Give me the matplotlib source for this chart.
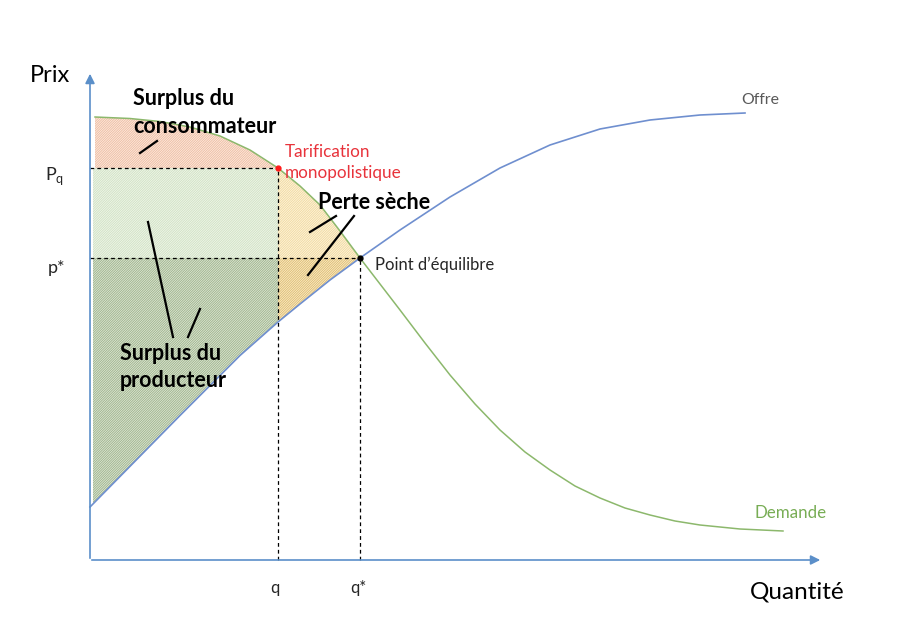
import numpy as np
import matplotlib
matplotlib.use('Agg')
from matplotlib import pyplot as plt

plt.rcParams['font.family'] = ['Lato', 'DejaVu Sans']
plt.rcParams['mathtext.fontset'] = 'custom'
plt.rcParams['mathtext.rm'] = 'Lato'
plt.rcParams['hatch.linewidth'] = 0.6

# offre (supply)
q_offre = np.array([0.0, 3.0, 6.0, 9.0, 12.0, 15.0, 18.8, 21.0, 24.0, 27.0,
                    31.0, 36.0, 41.0, 46.0, 51.0, 56.0, 61.0, 65.5])
p_offre = np.array([5.3, 8.35, 11.4, 14.45, 17.45, 20.45, 23.8, 25.6, 28.0, 30.2,
                    33.0, 36.3, 39.2, 41.5, 43.1, 44.0, 44.5, 44.7])

# demande (demand)
q_dem = np.array([0.5, 4.0, 7.0, 10.0, 13.0, 16.0, 18.8, 21.0, 23.0, 25.0, 27.0,
                  29.0, 31.0, 33.5, 36.0, 38.5, 41.0, 43.5, 46.0, 48.5, 51.0,
                  53.5, 56.0, 58.5, 61.0, 65.0, 69.3])
p_dem = np.array([44.3, 44.15, 43.85, 43.3, 42.4, 41.0, 39.2, 37.4, 35.5, 32.9, 30.2,
                  27.6, 25.0, 21.7, 18.5, 15.6, 13.0, 10.8, 9.0, 7.4, 6.2,
                  5.2, 4.5, 3.9, 3.5, 3.1, 2.9])

q_mono, p_mono = 18.8, 39.2    # tarification monopolistique
q_eq, p_eq = 27.0, 30.2        # point d'equilibre

fig = plt.figure(figsize=(9.06, 6.18), dpi=100)
ax = fig.add_axes([0, 0, 1, 1])
ax.set_xlim(-9, 81.6)
ax.set_ylim(-5.8, 56)
ax.axis('off')

h = '/' * 14
# surfaces
m = q_dem <= q_mono
ax.fill_between(q_dem[m], p_dem[m], p_mono, facecolor='#fcebe1', edgecolor='#eebb9f',
                hatch=h, lw=0)
ax.fill_between([0.3, q_mono], p_eq, p_mono, facecolor='#f0f6eb', edgecolor='#cfe1c2',
                hatch=h, lw=0)
m = q_offre <= q_mono
ax.fill_between(np.r_[0.3, q_offre[m][1:]], np.r_[np.interp(0.3, q_offre, p_offre), p_offre[m][1:]],
                p_eq, facecolor='#dee7d5', edgecolor='#9cb28a', hatch=h, lw=0)
m = (q_dem >= q_mono) & (q_dem <= q_eq)
ax.fill_between(q_dem[m], p_dem[m], p_eq, facecolor='#fdf5df', edgecolor='#f1d89c',
                hatch=h, lw=0)
m = (q_offre >= q_mono) & (q_offre <= q_eq)
ax.fill_between(q_offre[m], p_offre[m], p_eq, facecolor='#faecc8', edgecolor='#ddbb70',
                hatch=h, lw=0)

# courbes
ax.plot(q_offre, p_offre, color='#6f8fcf', lw=1.2)
ax.plot(q_dem, p_dem, color='#8cb86c', lw=1.1)

# pointilles
ax.plot([0, q_mono], [p_mono, p_mono], 'k--', lw=0.9, dashes=(3, 2.5))
ax.plot([0, q_eq], [p_eq, p_eq], 'k--', lw=0.9, dashes=(3, 2.5))
ax.plot([q_mono, q_mono], [0, p_mono], 'k--', lw=0.9, dashes=(3, 2.5))
ax.plot([q_eq, q_eq], [0, p_eq], 'k--', lw=0.9, dashes=(3, 2.5))

ax.plot(q_mono, p_mono, 'o', color='#ff1a1a', ms=3.5)
ax.plot(q_eq, p_eq, 'o', color='black', ms=3.5)

# axes
axc = '#5b8fc9'
ax.annotate('', xy=(73.3, 0), xytext=(-0.1, 0),
            arrowprops=dict(arrowstyle='-|>', color=axc, lw=1.2, mutation_scale=14))
ax.annotate('', xy=(0, 48.9), xytext=(0, -0.1),
            arrowprops=dict(arrowstyle='-|>', color=axc, lw=1.2, mutation_scale=14))

# textes
ax.text(-6.0, 48.4, 'Prix', fontsize=17, va='center', ha='left')
ax.text(66.0, -3.8, 'Quantité', fontsize=17.5, va='baseline', ha='left')
ax.text(-4.5, 38.0, r'P$_{\mathrm{q}}$', fontsize=13, va='baseline', color='#262626')
ax.text(-4.2, 28.7, 'p*', fontsize=13, va='baseline', color='#262626')
ax.text(q_mono - 0.3, -3.3, 'q', fontsize=12, va='baseline', ha='center', color='#262626')
ax.text(q_eq - 1.0, -3.3, 'q*', fontsize=12, va='baseline', ha='left', color='#262626')

ax.text(4.3, 45.5, 'Surplus du', fontsize=15.5, fontweight='bold', va='baseline')
ax.text(4.3, 42.7, 'consommateur', fontsize=15.5, fontweight='bold', va='baseline')
ax.text(3.0, 20.0, 'Surplus du', fontsize=15.5, fontweight='bold', va='baseline')
ax.text(3.0, 17.3, 'producteur', fontsize=15.5, fontweight='bold', va='baseline')
ax.text(22.8, 35.1, 'Perte sèche', fontsize=15.5, fontweight='bold', va='baseline')

ax.text(19.5, 40.3, 'Tarification', fontsize=12.3, color='#e8333b', va='baseline')
ax.text(19.5, 38.2, 'monopolistique', fontsize=12.3, color='#e8333b', va='baseline')
ax.text(28.5, 29.0, 'Point d\u2019équilibre', fontsize=12, color='#262626', va='baseline')
ax.text(65.1, 45.6, 'Offre', fontsize=11.4, color='#595959', va='baseline')
ax.text(66.4, 4.2, 'Demande', fontsize=12.2, color='#78ad55', va='baseline')

# traits de rappel
for (x0, y0), (x1, y1) in [((5.0, 40.7), (6.7, 41.9)),
                           ((5.8, 33.8), (8.3, 22.3)),
                           ((11.0, 25.1), (9.8, 22.3)),
                           ((22.0, 32.8), (24.6, 34.4)),
                           ((21.8, 28.5), (26.4, 34.4))]:
    ax.plot([x0, x1], [y0, y1], color='black', lw=1.6)

fig.savefig('out.png', dpi=100)
